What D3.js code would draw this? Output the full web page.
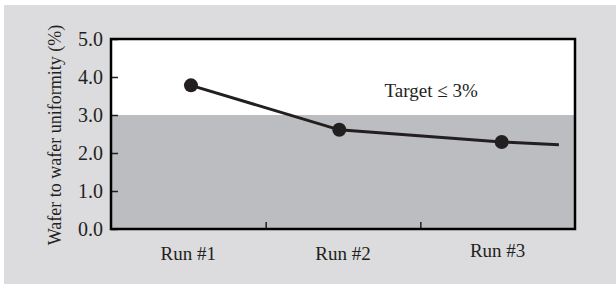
<!DOCTYPE html>
<html>
<head>
<meta charset="utf-8">
<script src="https://cdn.jsdelivr.net/npm/d3@7"></script>
<style>
  body { margin: 0; background: #fff; }
  text { font-family: "Liberation Serif", "Times New Roman", serif; fill: #231f20; }
</style>
</head>
<body>
<script>
var w = 616;
var h = 284;

// data
var runs = ["Run #1", "Run #2", "Run #3"];
var runPos = [0.517, 1.476, 2.526];      // where each run sits on the x scale
var uniformity = [3.78, 2.61, 2.29];     // % wafer to wafer
var tailPos = 2.896;                      // line keeps going past run #3
var tailValue = 2.22;
var target = 3.0;
var yTicks = [0, 1, 2, 3, 4, 5];

var ink = "#231f20";

var svg = d3.select("body").append("svg").attr("width", w).attr("height", h);

// grey panel
svg.append("rect")
  .attr("x", 4).attr("y", 5)
  .attr("width", w - 4).attr("height", h - 5)
  .style("fill", "#dcdcde");

var plotL = 111, plotR = 575, plotT = 39, plotB = 229;

var x = d3.scaleLinear().domain([0, 3]).range([plotL, plotR]);
var y = d3.scaleLinear().domain([0, 5]).range([plotB, plotT]);

// plot background + target band
svg.append("rect")
  .attr("x", plotL).attr("y", plotT)
  .attr("width", plotR - plotL).attr("height", plotB - plotT)
  .style("fill", "#fff");
svg.append("rect")
  .attr("x", plotL).attr("y", y(target))
  .attr("width", plotR - plotL).attr("height", y(0) - y(target))
  .style("fill", "#bcbdc0");

// y axis (ticks point inward)
var yAxis = d3.axisLeft(y)
  .tickValues(yTicks)
  .tickFormat(d3.format(".1f"))
  .tickSizeInner(-7)
  .tickSizeOuter(0)
  .tickPadding(8);
var gy = svg.append("g").attr("transform", "translate(" + plotL + ",0)").call(yAxis);
gy.select(".domain").remove();
gy.selectAll("line").style("stroke", ink).style("stroke-width", 1.5);
gy.selectAll("text")
  .style("font-family", "'Liberation Serif', serif")
  .style("font-size", "20px")
  .style("fill", ink);

// x axis ticks between runs
var xAxis = d3.axisBottom(x)
  .tickValues([1, 2])
  .tickFormat("")
  .tickSizeInner(-7)
  .tickSizeOuter(0);
var gx = svg.append("g").attr("transform", "translate(0," + plotB + ")").call(xAxis);
gx.select(".domain").remove();
gx.selectAll("line").style("stroke", ink).style("stroke-width", 1.5);

// run labels
var labelShift = [0, 0, -3];
svg.selectAll(".run-label")
  .data(runs)
  .enter()
  .append("text")
  .attr("class", "run-label")
  .attr("x", function (d, i) { return x(i + 0.5); })
  .attr("y", function (d, i) { return plotB + 31 + labelShift[i]; })
  .attr("text-anchor", "middle")
  .style("font-size", "19px")
  .text(function (d) { return d; });

// frame
svg.append("rect")
  .attr("x", plotL).attr("y", plotT)
  .attr("width", plotR - plotL).attr("height", plotB - plotT)
  .style("fill", "none")
  .style("stroke", "#000")
  .style("stroke-width", 2.5);

// line
var pts = runPos.map(function (p, i) { return [p, uniformity[i]]; });
pts.push([tailPos, tailValue]);

var line = d3.line()
  .x(function (d) { return x(d[0]); })
  .y(function (d) { return y(d[1]); });

svg.append("path")
  .datum(pts)
  .attr("d", line)
  .style("fill", "none")
  .style("stroke", ink)
  .style("stroke-width", 3);

svg.selectAll("circle")
  .data(pts.slice(0, runs.length))
  .enter()
  .append("circle")
  .attr("cx", function (d) { return x(d[0]); })
  .attr("cy", function (d) { return y(d[1]); })
  .attr("r", 7)
  .style("fill", ink);

// annotation
svg.append("text")
  .attr("x", x(2.07))
  .attr("y", y(3.47))
  .attr("text-anchor", "middle")
  .style("font-size", "19px")
  .text("Target \u2264 3%");

// y label
svg.append("text")
  .attr("transform", "translate(61,135) rotate(-90)")
  .attr("text-anchor", "middle")
  .style("font-size", "18px")
  .text("Wafer to wafer uniformity (%)");
</script>
</body>
</html>
